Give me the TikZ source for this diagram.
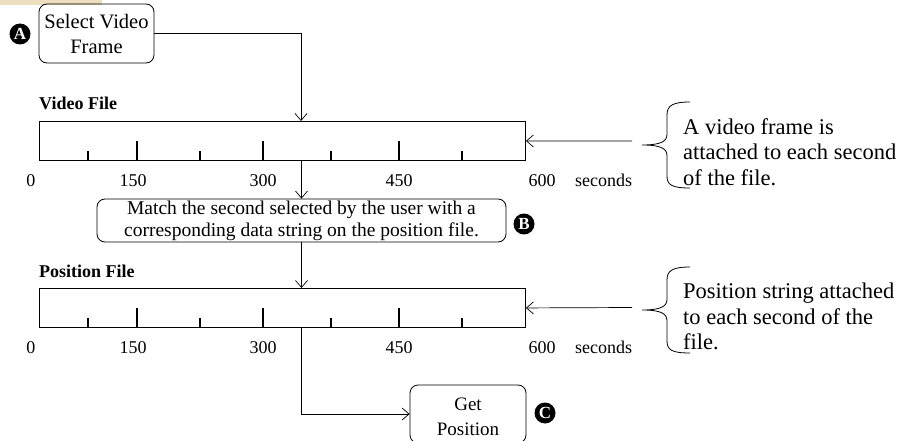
\documentclass[tikz,border=0pt]{standalone}
\usepackage{fontspec}
\setmainfont{Liberation Serif}
\usetikzlibrary{arrows.meta}
\definecolor{beige}{RGB}{236,222,190}
\begin{document}
\begin{tikzpicture}[x=1pt,y=-1pt,
  box/.style={draw, rounded corners=8pt, line width=0.8pt, align=center, inner sep=0pt},
  bar/.style={draw, line width=0.9pt, minimum width=486pt, minimum height=39pt, inner sep=0pt, anchor=north west},
  arr/.style={-{Straight Barb[length=7pt,width=12pt]}, line width=0.7pt},
  lab/.style={font=\fontsize{18}{20}\selectfont, inner sep=0pt, anchor=base},
  flab/.style={font=\bfseries\fontsize{18}{20}\selectfont, inner sep=0pt, anchor=base west},
  marker/.style={circle, fill=black, text=white, inner sep=0pt, minimum size=21pt, font=\bfseries\fontsize{17}{17}\selectfont},
  note/.style={align=left, anchor=north west, font=\fontsize{22.5}{25.5}\selectfont, inner sep=0pt},
  tickmark/.style={line width=1.3pt},
  brc/.style={line width=0.8pt}]
\useasboundingbox (0,0) rectangle (903,441);
\clip (0,0) rectangle (903,441);
\fill[beige] (0,0) rectangle (102,5);

% select video frame
\node[box, minimum width=115pt, minimum height=59pt, font=\fontsize{20.5}{25}\selectfont] (sel) at (96.5,33.5) {Select Video\\Frame};
\node[marker] (ma) at (20,34) {A};

% video file bar
\node[flab] (vlab) at (39,110) {Video File};
\node[bar] (vbar) at (39,121) {};
\foreach \x in {88,200,331,462} \draw[tickmark] (\x,160) -- (\x,151);
\foreach \x in {137,263,399} \draw[tickmark] (\x,160) -- (\x,141);
\node[lab] (v0) at (31,186) {0};
\node[lab] (v150) at (133,186) {150};
\node[lab] (v300) at (263,186) {300};
\node[lab] (v450) at (399,186) {450};
\node[lab] (v600) at (542,186) {600};
\node[lab, anchor=base west] (vsec) at (575,186) {seconds};

% match box
\node[box, minimum width=409pt, minimum height=43pt, font=\fontsize{19.5}{22}\selectfont] (match) at (301.5,220.5) {Match the second selected by the user with a\\corresponding data string on the position file.};
\node[marker] (mb) at (524,224) {B};

% position file bar
\node[flab] (plab) at (39,277) {Position File};
\node[bar] (pbar) at (39,288) {};
\foreach \x in {88,200,331,462} \draw[tickmark] (\x,327) -- (\x,318);
\foreach \x in {137,263,399} \draw[tickmark] (\x,327) -- (\x,308);
\node[lab] (p0) at (31,353) {0};
\node[lab] (p150) at (133,353) {150};
\node[lab] (p300) at (263,353) {300};
\node[lab] (p450) at (399,353) {450};
\node[lab] (p600) at (542,353) {600};
\node[lab, anchor=base west] (psec) at (575,353) {seconds};

% get position
\node[box, minimum width=116pt, minimum height=58pt, font=\fontsize{19}{25}\selectfont] (get) at (468,414) {\strut Get\\Position};
\node[marker] (mc) at (545,413) {C};

% connectors
\coordinate (vtop) at (301,121);
\draw[arr] (sel.east) -| (vtop);
\draw[arr] (vbar.south -| match.north) -- (match.north);
\draw[arr] (match.south) -- (pbar.north -| match.south);
\draw[arr] (pbar.south -| match.south) |- (get.west);

% notes
\coordinate (n1) at (632,141);
\coordinate (n2) at (632,307.5);
\draw[arr] (n1) -- (vbar.east);
\draw[arr] (n2) -- (pbar.east);
\draw[brc] (690,102) .. controls (672,102) and (667,106) .. (667,115) -- (667,134) .. controls (667,141) and (662,145) .. (642,145)
  .. controls (662,145) and (667,149) .. (667,156) -- (667,176) .. controls (667,185) and (672,188) .. (690,188);
\draw[brc] (690,267) .. controls (672,267) and (667,271) .. (667,280) -- (667,299) .. controls (667,306) and (662,310) .. (642,310)
  .. controls (662,310) and (667,314) .. (667,321) -- (667,341) .. controls (667,350) and (672,353) .. (690,353);
\node[note] (t1) at (683,118) {A video frame is\\attached to each second\\of the file.};
\node[note] (t2) at (683,283) {Position string attached\\to each second of the\\file.};
\end{tikzpicture}
\end{document}
